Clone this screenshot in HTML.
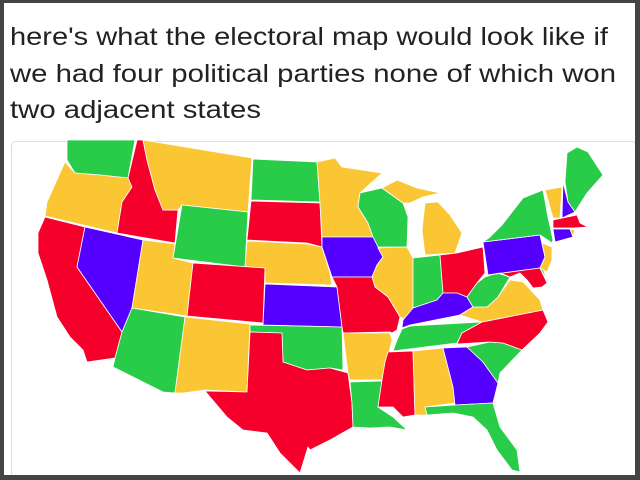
<!DOCTYPE html>
<html><head><meta charset="utf-8"><style>
html,body{margin:0;padding:0;background:#444;}
svg{display:block;}
</style></head><body>
<svg width="640" height="480" viewBox="0 0 640 480" xmlns="http://www.w3.org/2000/svg">
<rect x="0" y="0" width="640" height="480" fill="#444"/>
<rect x="4" y="3" width="631" height="472" fill="#fff"/>
<g font-family="Liberation Sans, Arial, sans-serif" font-size="25" fill="#222">
<text x="10" y="45" textLength="598" lengthAdjust="spacingAndGlyphs">here's what the electoral map would look like if</text>
<text x="10" y="82" textLength="606" lengthAdjust="spacingAndGlyphs">we had four political parties none of which won</text>
<text x="10" y="118" textLength="251" lengthAdjust="spacingAndGlyphs">two adjacent states</text>
</g>
<rect x="11.5" y="141.5" width="624" height="340" rx="4" fill="#fff" stroke="#ddd"/>
<g id="states" stroke="#fff" stroke-width="0.8" stroke-linejoin="round"></g>
<rect x="0" y="475" width="640" height="5" fill="#444"/>
<rect x="635" y="0" width="5" height="480" fill="#444"/>
</svg>
<script>
const R="#f5002a",Y="#fbc633",G="#28cc48",B="#5500ff";
const states=[
["WA",G,"67,140 135,140 128,178 100,175 75,173 67,160"],
["OR",Y,"65,162 75,173 100,175 128,178 132,187 122,202 117,233 45,216 47,202"],
["ID",R,"137,140 143,140 147,160 155,190 163,210 178,210 175,243 117,233 122,202 132,187 128,178"],
["MT",Y,"143,140 252,158 248,212 182,205 178,210 163,210 155,190 147,160"],
["WY",G,"182,205 248,212 245,267 173,258"],
["ND",G,"253,159 317,162 320,202 251,200"],
["SD",R,"251,201 320,203 322,247 307,243 247,240"],
["NE",Y,"247,241 307,244 322,247 330,273 332,285 265,283 265,268 245,267"],
["CA",R,"45,217 85,227 77,267 122,332 115,358 87,362 83,350 70,337 57,317 47,280 38,253 38,233"],
["NV",B,"85,227 143,240 132,308 127,320 122,332 77,267"],
["UT",Y,"143,240 175,244 173,258 193,263 187,316 132,308"],
["CO",R,"193,263 265,268 263,323 187,316"],
["AZ",G,"132,308 185,317 175,393 163,392 113,367 115,358 122,332 127,320"],
["NM",Y,"185,317 250,324 247,392 205,390 183,393 175,393"],
["KS",B,"265,284 337,287 342,327 263,325"],
["OK",G,"250,325 342,327 343,370 330,368 307,370 283,362 282,333 250,332"],
["TX",R,"250,332 282,333 283,362 307,370 330,368 348,373 352,403 353,427 330,440 310,450 308,447 300,473 280,453 267,433 243,430 227,417 205,391 247,392"],
["MN",Y,"317,162 335,158 342,167 382,173 360,193 358,207 368,223 373,237 322,237 320,203"],
["WI",G,"360,193 382,188 403,203 408,217 407,247 378,247 373,237 368,223 358,207"],
["MI-U",Y,"382,188 397,180 417,188 440,193 423,197 410,203 403,203"],
["MI-L",Y,"425,203 438,202 450,215 462,233 455,253 425,255 422,230"],
["IA",B,"322,237 373,237 378,247 383,257 377,265 372,277 332,277 322,247"],
["IL",Y,"378,248 407,247 413,258 413,307 407,320 400,317 388,297 375,287 372,277 377,265 383,257"],
["IN",G,"413,258 440,255 443,293 437,300 413,308"],
["OH",R,"440,255 457,253 483,247 485,273 477,283 467,297 457,293 443,293"],
["MO",R,"332,277 372,277 375,287 388,297 400,317 397,330 392,333 390,332 343,333 342,327 337,287"],
["KY",B,"443,293 457,293 467,297 473,307 460,315 410,325 402,328 403,320 413,308 437,300"],
["TN",G,"402,329 410,326 482,322 462,333 457,343 393,351 397,340"],
["AR",Y,"343,333 390,333 392,340 388,357 382,380 350,380 348,373"],
["LA",G,"350,382 382,381 378,407 393,417 407,430 390,427 370,428 353,427 352,403"],
["MS",R,"388,352 413,351 415,415 403,417 393,407 378,407 382,380 385,362"],
["AL",Y,"413,351 443,348 453,387 455,403 425,407 427,415 415,415"],
["GA",B,"443,348 467,347 483,362 498,383 493,403 455,405 453,387"],
["FL",G,"425,407 455,405 493,403 500,427 517,450 520,472 512,470 497,450 487,430 473,417 453,413 427,415"],
["SC",G,"467,347 490,342 503,343 522,350 500,373 498,383 483,362"],
["NC",R,"462,333 482,322 543,310 548,322 540,333 522,350 503,343 490,342 457,344"],
["VA",Y,"473,307 487,307 498,297 510,280 523,282 540,300 543,310 482,322 460,315"],
["WV",G,"467,297 477,283 485,277 497,273 510,277 498,297 487,307 473,307"],
["PA",B,"483,242 540,235 545,257 540,268 488,275"],
["MD",R,"488,275 540,268 547,283 542,287 533,288 527,280 520,273 510,277 500,273"],
["DE",G,"540,268 547,280 543,269"],
["NJ",Y,"542,243 552,247 552,260 547,272 540,268 545,257"],
["NY",G,"490,237 502,225 523,198 543,190 548,217 553,240 552,243 540,235 483,242"],
["VT",Y,"545,190 562,187 560,218 553,218"],
["NH",B,"563,182 568,202 575,212 562,218"],
["ME",G,"567,153 577,147 588,152 603,175 587,193 575,212 568,202 565,182"],
["MA",R,"553,220 577,215 580,223 588,227 573,228 553,228"],
["CT",B,"553,229 570,229 573,237 555,242"],
["RI",Y,"570,229 575,230 573,236"]
];
const g=document.getElementById('states');
for(const [abbr,color,pts] of states){
  const p=document.createElementNS('http://www.w3.org/2000/svg','polygon');
  p.setAttribute('points',pts);
  p.setAttribute('fill',color);
  
  
  g.appendChild(p);
}
</script>
</body></html>
